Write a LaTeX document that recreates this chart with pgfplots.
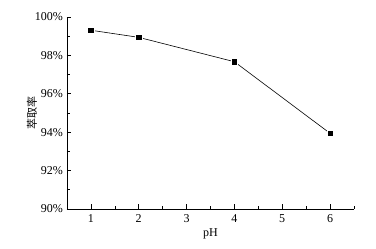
\documentclass[border=0pt]{standalone}
\usepackage{pgfplots}
\pgfplotsset{compat=1.18}
\usepackage{fontspec}
\setmainfont{Liberation Serif}
\newfontfamily\cjk{Noto Sans CJK SC}
\begin{document}
\fontsize{12pt}{14pt}\selectfont
\begin{tikzpicture}
\path[use as bounding box] (-67pt,-40pt) rectangle (309pt,209pt);
\begin{axis}[
  at={(0,0)}, anchor=south west,
  scale only axis, width=287pt, height=192pt,
  xmin=0.5, xmax=6.5, ymin=90, ymax=100,
  axis lines=left, axis line style={-, line width=0.6pt},
  tick align=inside,
  xtick={1,2,3,4,5,6}, minor xtick={1.5,2.5,3.5,4.5,5.5,6.5},
  ytick={90,92,94,96,98,100}, minor ytick={91,93,95,97,99},
  major tick length=4.5pt, minor tick length=3pt,
  tick style={black, line width=0.6pt},
  yticklabel={\pgfmathprintnumber{\tick}\%},
  /pgf/number format/assume math mode=true,
  ticklabel style={font=\fontsize{12pt}{14pt}\selectfont},
  xticklabel style={yshift=-1pt},
  xlabel={pH}, ylabel={\cjk 萃取率},
  label style={font=\fontsize{12pt}{14pt}\selectfont},
  xlabel style={yshift=2pt},
  ylabel style={at={(axis description cs:-0.122,0.5)}, anchor=center, font=\fontsize{11pt}{13pt}\selectfont},
  clip=false,
]
\addplot[black, line width=0.6pt, mark=square*, mark size=3.2pt,
  mark options={fill=black, draw=white, line width=0.6pt}]
  coordinates {(1,99.31) (2,98.94) (4,97.67) (6,93.94)};
\end{axis}
\end{tikzpicture}
\end{document}
